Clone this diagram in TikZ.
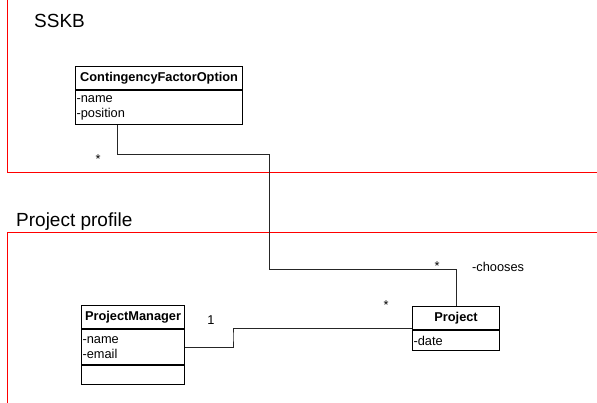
\documentclass[tikz,border=0pt]{standalone}
\usepackage{fontspec}
\setmainfont{Liberation Sans}
\begin{document}
\begin{tikzpicture}[x=1pt,y=1pt,
  frame/.style={draw=red, line width=1pt},
  title/.style={font=\fontsize{19}{22}\selectfont, anchor=base west, inner sep=0pt},
  classhead/.style={draw, line width=1.1pt, font=\fontsize{12.8}{15}\selectfont\bfseries,
    inner sep=0pt, anchor=north west},
  attrs/.style={draw, line width=1.1pt, font=\fontsize{12.8}{15}\selectfont,
    inner xsep=1pt, inner ysep=0pt, align=left, anchor=north west},
  conn/.style={draw=black!85, line width=0.9pt},
  mult/.style={font=\fontsize{12.8}{15}\selectfont, inner sep=0pt, anchor=base}
]
\useasboundingbox (0,0) rectangle (597,-403);

% package frames
\draw[frame] (7,0) -- (7,-173) -- (597,-173);
\draw[frame] (597,-233) -- (7,-233) -- (7,-403);
\node[title] (sskb) at (34,-28) {SSKB};
\node[title] (profile) at (16,-227) {Project profile};

% ContingencyFactorOption
\node[classhead, minimum width=167, minimum height=23] (cfohead) at (75,-66) {ContingencyFactorOption};
\node[attrs, text width=165, minimum height=34] (cfoattr) at (cfohead.south west) {-name\\-position};

% ProjectManager
\node[classhead, minimum width=103, minimum height=23] (pmhead) at (81,-305) {ProjectManager};
\node[attrs, text width=101, minimum height=35] (pmattr) at (pmhead.south west) {-name\\-email};
\node[attrs, text width=101, minimum height=19] (pmops) at (pmattr.south west) {};

% Project
\node[classhead, minimum width=87, minimum height=23] (prjhead) at (412,-306) {Project};
\node[attrs, text width=85, minimum height=20] (prjattr) at (prjhead.south west) {-date};

% associations
\coordinate (j1) at (269,-154);
\coordinate (j2) at (269,-269);
\draw[conn] ([xshift=42pt]cfoattr.south west) |- (j1) -- (j2) -| (prjhead.north);
\coordinate (k) at (233,-336);
\draw[conn] (pmattr.east) -| (k) |- ([yshift=2pt]prjhead.south west);

% multiplicities and role
\node[mult] (m1) at (98,-164) {*};
\node[mult] (m2) at (437,-271) {*};
\node[mult, anchor=base west] (role) at (472,-272) {-chooses};
\node[mult] (m3) at (386,-309) {*};
\node[mult] (m4) at (211,-324) {1};
\end{tikzpicture}
\end{document}
